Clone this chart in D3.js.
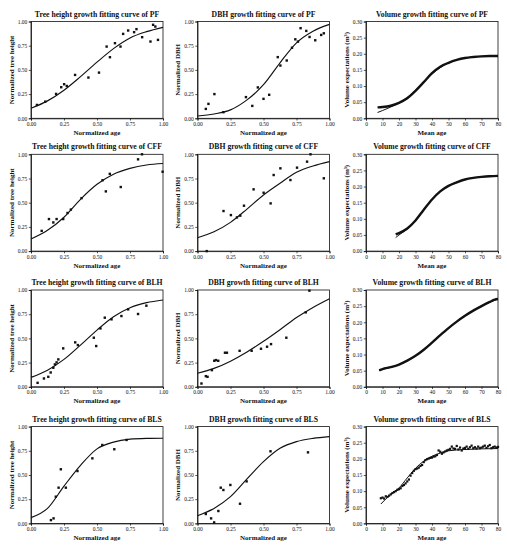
<!DOCTYPE html>
<html><head><meta charset="utf-8">
<script src="https://cdn.jsdelivr.net/npm/d3@7"></script>
<style>body{margin:0;background:#fff}svg{display:block}</style>
</head><body><svg id="c" width="507" height="550"></svg>
<script>
// ---------- tick labels ----------
const normTicks = [0, 0.25, 0.5, 0.75, 1];
const ageTicks = [0, 10, 20, 30, 40, 50, 60, 70, 80];
const volTicks = [0, 0.05, 0.10, 0.15, 0.20, 0.25, 0.30];
const groups = ["PF", "CFF", "BLH", "BLS"];

// ---------- Tree height (normalized) ----------
const pfHeightPts = [[0.045,0.138],[0.108,0.172],[0.19,0.252],[0.229,0.321],[0.251,0.352],[0.271,0.334],[0.334,0.448],[0.435,0.421],[0.515,0.472],[0.573,0.741],[0.598,0.631],[0.636,0.776],[0.678,0.741],[0.698,0.872],[0.736,0.907],[0.781,0.89],[0.799,0.921],[0.842,0.838],[0.905,0.793],[0.925,0.966],[0.942,0.948],[0.962,0.81]];
const pfHeightFit = [[0,0.103],[0.125,0.18],[0.25,0.29],[0.375,0.43],[0.5,0.58],[0.625,0.72],[0.75,0.83],[0.875,0.895],[1,0.94]];
const cffHeightPts = [[0.081,0.209],[0.136,0.331],[0.169,0.296],[0.194,0.331],[0.244,0.331],[0.277,0.394],[0.302,0.429],[0.383,0.547],[0.542,0.732],[0.567,0.617],[0.597,0.798],[0.68,0.662],[0.811,0.948],[0.841,1.0],[0.997,0.82]];
const cffHeightFit = [[0,0.125],[0.125,0.215],[0.25,0.35],[0.375,0.535],[0.5,0.69],[0.625,0.795],[0.75,0.855],[0.875,0.89],[1,0.905]];
const blhHeightPts = [[0.05,0.041],[0.098,0.086],[0.131,0.103],[0.149,0.148],[0.169,0.197],[0.181,0.231],[0.194,0.252],[0.207,0.283],[0.244,0.397],[0.335,0.459],[0.355,0.431],[0.476,0.507],[0.494,0.421],[0.526,0.603],[0.559,0.714],[0.61,0.697],[0.685,0.731],[0.736,0.8],[0.811,0.752],[0.874,0.838]];
const blhHeightFit = [[0,0.097],[0.125,0.172],[0.25,0.283],[0.375,0.431],[0.5,0.586],[0.625,0.724],[0.75,0.817],[0.875,0.869],[1,0.897]];
const blsHeightPts = [[0.151,0.034],[0.171,0.052],[0.188,0.276],[0.209,0.369],[0.226,0.559],[0.264,0.369],[0.352,0.541],[0.465,0.672],[0.54,0.81],[0.631,0.766],[0.724,0.862]];
const blsHeightFit = [[0,0.06],[0.125,0.155],[0.25,0.385],[0.375,0.6],[0.5,0.77],[0.625,0.84],[0.75,0.87],[0.875,0.878],[1,0.88]];

// ---------- DBH (normalized) ----------
const pfDbhPts = [[0.063,0.097],[0.083,0.149],[0.128,0.25],[0.196,0.063],[0.367,0.219],[0.415,0.128],[0.457,0.319],[0.5,0.201],[0.543,0.243],[0.608,0.632],[0.628,0.545],[0.676,0.597],[0.716,0.729],[0.741,0.816],[0.761,0.792],[0.781,0.931],[0.824,0.903],[0.849,0.84],[0.892,0.806],[0.937,0.861],[0.957,0.878]];
const pfDbhFit = [[0,0.024],[0.125,0.045],[0.25,0.087],[0.375,0.19],[0.5,0.347],[0.625,0.573],[0.75,0.78],[0.875,0.9],[1,0.97]];
const cffDbhPts = [[0.07,0.0],[0.197,0.414],[0.253,0.372],[0.299,0.348],[0.324,0.366],[0.352,0.469],[0.425,0.638],[0.501,0.603],[0.554,0.493],[0.577,0.786],[0.628,0.855],[0.704,0.734],[0.754,0.862],[0.83,0.924],[0.856,1.0],[0.957,0.752]];
const cffDbhFit = [[0,0.138],[0.125,0.2],[0.25,0.297],[0.375,0.434],[0.5,0.579],[0.625,0.7],[0.75,0.814],[0.875,0.879],[1,0.924]];
const blhDbhPts = [[0.03,0.034],[0.063,0.11],[0.076,0.103],[0.109,0.172],[0.127,0.269],[0.139,0.276],[0.157,0.269],[0.208,0.352],[0.223,0.352],[0.319,0.372],[0.41,0.372],[0.481,0.393],[0.527,0.414],[0.557,0.441],[0.673,0.507],[0.82,0.769],[0.848,0.993]];
const blhDbhFit = [[0,0.14],[0.125,0.19],[0.25,0.265],[0.375,0.36],[0.5,0.47],[0.625,0.59],[0.75,0.715],[0.875,0.82],[1,0.91]];
const blsDbhPts = [[0.063,0.097],[0.103,0.052],[0.126,0.01],[0.158,0.128],[0.176,0.369],[0.196,0.345],[0.249,0.397],[0.322,0.203],[0.372,0.434],[0.553,0.745],[0.837,0.734]];
const blsDbhFit = [[0,0.079],[0.125,0.155],[0.25,0.276],[0.375,0.459],[0.5,0.638],[0.625,0.776],[0.75,0.845],[0.875,0.879],[1,0.897]];

// ---------- Volume (m3) vs mean age ----------
const pfVolObs = [[7,0.034],[10,0.035],[15,0.039],[20,0.048],[25,0.062],[30,0.085],[35,0.112],[40,0.14],[45,0.16],[50,0.172],[55,0.181],[60,0.187],[65,0.19],[70,0.192],[75,0.193],[80,0.193]];
const pfVolFit = [[7,0.018],[10,0.024],[15,0.035],[20,0.048],[25,0.065],[30,0.087],[35,0.112],[40,0.137],[45,0.157],[50,0.171],[55,0.181],[60,0.187],[65,0.19],[70,0.192],[80,0.193]];
const cffVolObs = [[18,0.052],[20,0.056],[25,0.07],[30,0.095],[35,0.128],[40,0.16],[45,0.185],[50,0.202],[55,0.213],[60,0.222],[65,0.227],[70,0.23],[75,0.232],[80,0.233]];
const cffVolFit = [[18,0.042],[20,0.05],[25,0.068],[30,0.094],[35,0.128],[40,0.16],[45,0.185],[50,0.202],[55,0.214],[60,0.222],[65,0.227],[70,0.23],[80,0.233]];
const blhVolObs = [[8,0.051],[10,0.055],[15,0.061],[20,0.069],[25,0.081],[30,0.096],[35,0.115],[40,0.137],[45,0.16],[50,0.182],[55,0.202],[60,0.22],[65,0.236],[70,0.25],[75,0.263],[78,0.27],[80,0.272]];
const blhVolFit = [[8,0.051],[10,0.054],[15,0.06],[20,0.069],[25,0.081],[30,0.096],[35,0.115],[40,0.137],[45,0.16],[50,0.182],[55,0.202],[60,0.22],[65,0.236],[70,0.25],[75,0.262],[80,0.272]];
const blsVolObs = [[9,0.078],[10,0.08],[11,0.077],[12,0.084],[13,0.082],[14,0.086],[15,0.09],[16,0.094],[17,0.097],[18,0.1],[19,0.104],[20,0.106],[21,0.109],[22,0.116],[23,0.119],[24,0.124],[25,0.13],[26,0.136],[27,0.148],[28,0.156],[29,0.163],[30,0.168],[31,0.17],[32,0.173],[33,0.178],[34,0.181],[35,0.19],[36,0.196],[37,0.199],[38,0.201],[39,0.203],[40,0.204],[41,0.207],[42,0.208],[43,0.212],[44,0.226],[45,0.222],[46,0.216],[47,0.22],[48,0.223],[49,0.226],[50,0.228],[51,0.231],[52,0.238],[53,0.232],[54,0.231],[55,0.24],[56,0.229],[57,0.235],[58,0.226],[59,0.232],[60,0.234],[61,0.238],[62,0.231],[63,0.236],[64,0.241],[65,0.233],[66,0.236],[67,0.232],[68,0.238],[69,0.233],[70,0.235],[71,0.238],[72,0.241],[73,0.234],[74,0.239],[75,0.243],[76,0.233],[77,0.236],[78,0.238],[79,0.235],[80,0.237]];
const blsVolFit = [[9,0.06],[15,0.09],[20,0.11],[25,0.141],[30,0.171],[35,0.193],[40,0.208],[45,0.218],[50,0.225],[60,0.229],[70,0.231],[80,0.232]];

// ---------- build panel table ----------
const heightPts = [pfHeightPts, cffHeightPts, blhHeightPts, blsHeightPts];
const heightFit = [pfHeightFit, cffHeightFit, blhHeightFit, blsHeightFit];
const dbhPts = [pfDbhPts, cffDbhPts, blhDbhPts, blsDbhPts];
const dbhFit = [pfDbhFit, cffDbhFit, blhDbhFit, blsDbhFit];
const volObs = [pfVolObs, cffVolObs, blhVolObs, blsVolObs];
const volFit = [pfVolFit, cffVolFit, blhVolFit, blsVolFit];

const colLeft = [31, 197.5, 366];
const rowTop = [21.5, 154.3, 290, 426.6];
const W = 132, H = 96.8;
const serif = "'Liberation Serif','DejaVu Serif',serif";

const svg = d3.select("#c");
const panels = [];
groups.forEach((g, r) => {
  panels.push({r, c:0, title:`Tree height growth fitting curve of ${g}`, ylab:"Normalized tree height", xlab:"Normalized age", kind:"norm", pts:heightPts[r], fit:heightFit[r]});
  panels.push({r, c:1, title:`DBH growth fitting curve of ${g}`, ylab:"Normalized DBH", xlab:"Normalized age", kind:"norm", pts:dbhPts[r], fit:dbhFit[r]});
  panels.push({r, c:2, title:`Volume growth fitting curve of ${g}`, ylab:"Volume expectations (m³)", xlab:"Mean age", kind:"vol", obs:volObs[r], fit:volFit[r], scatter: g === "BLS"});
});

panels.forEach(p => {
  const gx = svg.append("g").attr("transform", `translate(${colLeft[p.c]},${rowTop[p.r]})`);
  const isVol = p.kind === "vol";
  const x = d3.scaleLinear().domain(isVol ? [0, 80] : [0, 1]).range([0, W]);
  const y = d3.scaleLinear().domain(isVol ? [0, 0.30] : [0, 1]).range([H, 0]);

  const xa = d3.axisBottom(x).tickValues(isVol ? ageTicks : normTicks)
    .tickFormat(isVol ? d3.format("d") : d3.format(".2f")).tickSize(2.2).tickPadding(1.5);
  const ya = d3.axisLeft(y).tickValues(isVol ? volTicks : normTicks)
    .tickFormat(d3.format(".2f")).tickSize(2.2).tickPadding(1.5);

  const gxa = gx.append("g").attr("transform", `translate(0,${H})`).call(xa);
  const gya = gx.append("g").call(ya);
  [gxa, gya].forEach(a => {
    a.selectAll("text").attr("font-family", serif).attr("font-size", 5.5).attr("fill", "#111");
    a.selectAll("line").attr("stroke", "#111").attr("stroke-width", 0.7);
    a.select(".domain").attr("stroke", "#111").attr("stroke-width", 0.8);
  });
  gx.append("rect").attr("width", W).attr("height", H).attr("fill", "none").attr("stroke", "#111").attr("stroke-width", 0.8);

  // titles
  gx.append("text").attr("x", W/2).attr("y", -5).attr("text-anchor", "middle")
    .attr("font-family", serif).attr("font-weight", "bold").attr("font-size", 7.7).attr("fill", "#111").text(p.title);
  gx.append("text").attr("x", W/2).attr("y", H + 16.5).attr("text-anchor", "middle")
    .attr("font-family", serif).attr("font-weight", "bold").attr("font-size", 7).attr("fill", "#111").text(p.xlab);
  gx.append("text").attr("transform", `translate(-17.5,${H/2}) rotate(-90)`).attr("text-anchor", "middle")
    .attr("font-family", serif).attr("font-weight", "bold").attr("font-size", 7).attr("fill", "#111").text(p.ylab);

  const clip = gx.append("g");
  const line = d3.line().x(d => x(d[0])).y(d => y(d[1])).curve(d3.curveMonotoneX);
  if (!isVol) {
    clip.append("path").datum(p.fit).attr("d", line).attr("fill", "none").attr("stroke", "#111").attr("stroke-width", 1.15);
    clip.selectAll("rect.pt").data(p.pts).join("rect").attr("class", "pt")
      .attr("x", d => x(d[0]) - 1.2).attr("y", d => y(d[1]) - 1.2).attr("width", 2.4).attr("height", 2.4).attr("fill", "#111");
  } else {
    if (p.scatter) {
      clip.selectAll("rect.pt").data(p.obs).join("rect").attr("class", "pt")
        .attr("x", d => x(d[0]) - 1.1).attr("y", d => y(d[1]) - 1.1).attr("width", 2.2).attr("height", 2.2).attr("fill", "#111");
    } else {
      clip.append("path").datum(p.obs).attr("d", line).attr("fill", "none").attr("stroke", "#111").attr("stroke-width", 2.4);
    }
    clip.append("path").datum(p.fit).attr("d", line).attr("fill", "none").attr("stroke", "#111").attr("stroke-width", 1.0);
  }
});
</script></body></html>
